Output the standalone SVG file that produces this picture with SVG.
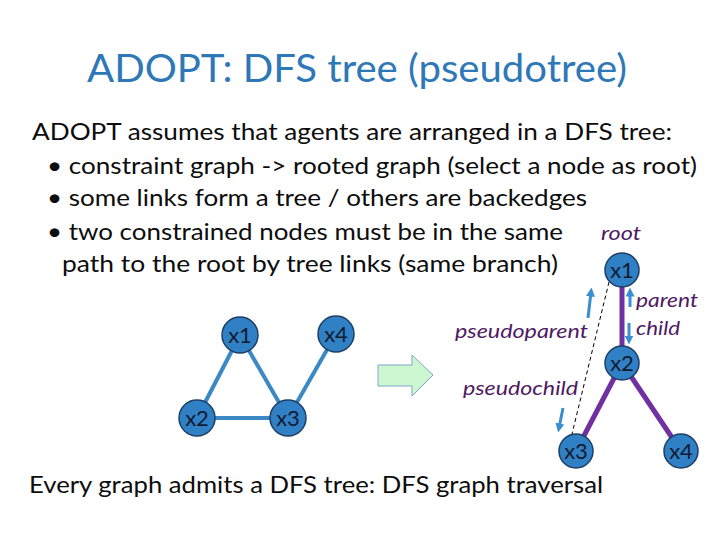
<svg xmlns="http://www.w3.org/2000/svg" width="720" height="540" viewBox="0 0 720 540">
<defs>
<style>
.t{font-family:"Lato","Open Sans","Liberation Sans",sans-serif;fill:#0d0d0d}
.title{font-family:"Lato","Open Sans","Liberation Sans",sans-serif;fill:#2e78b8;font-size:38px}
.lab{font-family:"Lato","Open Sans","Liberation Sans",sans-serif;fill:#4e1a62;font-size:20px;font-style:italic}
.node circle{fill:#2f80c4;stroke:#1f3f66;stroke-width:1.5}
.node text{font-family:"Lato","Open Sans","Liberation Sans",sans-serif;font-size:22px;fill:#141a30;text-anchor:middle}
.ce{stroke:#3a88c4;stroke-width:4;fill:none}
.te{stroke:#7030a0;stroke-width:5;fill:none}
.ba{stroke:#3a8fd0;stroke-width:3;fill:none;marker-end:url(#ah)}
</style>
<marker id="ah" viewBox="0 0 10 10" refX="5" refY="5" markerWidth="3" markerHeight="3" orient="auto"><path d="M0,0 L10,5 L0,10 z" fill="#3a8fd0"/></marker>
</defs>
<rect width="720" height="540" fill="#ffffff"/>
<text class="title" x="87" y="82" textLength="540" lengthAdjust="spacingAndGlyphs">ADOPT: DFS tree (pseudotree)</text>
<g class="t" font-size="24">
<text x="32" y="140" textLength="640" lengthAdjust="spacingAndGlyphs">ADOPT assumes that agents are arranged in a DFS tree:</text>
<text x="47" y="174" textLength="650" lengthAdjust="spacingAndGlyphs">• constraint graph -&gt; rooted graph (select a node as root)</text>
<text x="47" y="206" textLength="540" lengthAdjust="spacingAndGlyphs">• some links form a tree / others are backedges</text>
<text x="47" y="240" textLength="516" lengthAdjust="spacingAndGlyphs">• two constrained nodes must be in the same</text>
<text x="62" y="272" textLength="496" lengthAdjust="spacingAndGlyphs">path to the root by tree links (same branch)</text>
<text x="29" y="493" textLength="574" lengthAdjust="spacingAndGlyphs">Every graph admits a DFS tree: DFS graph traversal</text>
</g>
<g id="connectors">
<line class="ce" x1="240" y1="335" x2="197" y2="418"/>
<line class="ce" x1="240" y1="335" x2="288" y2="418"/>
<line class="ce" x1="197" y1="418" x2="288" y2="418"/>
<line class="ce" x1="336" y1="334" x2="288" y2="418"/>
<line class="te" x1="622" y1="270" x2="622" y2="363"/>
<line class="te" x1="622" y1="363" x2="576" y2="451"/>
<line class="te" x1="622" y1="363" x2="681" y2="451"/>
<line x1="609" y1="282" x2="572" y2="434" stroke="#000" stroke-width="1" stroke-dasharray="4,3"/>
<line class="ba" x1="588" y1="318" x2="591" y2="292"/>
<line class="ba" x1="563" y1="408" x2="559" y2="428"/>
<line class="ba" x1="630" y1="307" x2="630" y2="292"/>
<line class="ba" x1="629" y1="323" x2="629" y2="340"/>
</g>
<g id="lx1" class="node"><circle cx="240" cy="335" r="18"/><text x="240" y="343">x1</text></g>
<g id="lx2" class="node"><circle cx="197" cy="418" r="18"/><text x="197" y="426">x2</text></g>
<g id="lx3" class="node"><circle cx="288" cy="418" r="18"/><text x="288" y="426">x3</text></g>
<g id="lx4" class="node"><circle cx="336" cy="334" r="18"/><text x="336" y="342">x4</text></g>
<g id="arrow"><path d="M378,365 H412 V355 L433,375 L412,396 V386 H378 Z" fill="#ccf7d0" stroke="#7ea6c8" stroke-width="1"/></g>
<g id="rx1" class="node"><circle cx="622" cy="270" r="17"/><text x="622" y="278">x1</text></g>
<g id="rx2" class="node"><circle cx="622" cy="363" r="17"/><text x="622" y="371">x2</text></g>
<g id="rx3" class="node"><circle cx="576" cy="451" r="17"/><text x="576" y="459">x3</text></g>
<g id="rx4" class="node"><circle cx="681" cy="451" r="17"/><text x="681" y="459">x4</text></g>
<text class="lab" x="601" y="240" textLength="40" lengthAdjust="spacingAndGlyphs">root</text>
<text class="lab" x="455" y="338" textLength="133" lengthAdjust="spacingAndGlyphs">pseudoparent</text>
<text class="lab" x="463" y="395" textLength="115" lengthAdjust="spacingAndGlyphs">pseudochild</text>
<text class="lab" x="636" y="307" textLength="62" lengthAdjust="spacingAndGlyphs">parent</text>
<text class="lab" x="636" y="335" textLength="44" lengthAdjust="spacingAndGlyphs">child</text>
</svg>
